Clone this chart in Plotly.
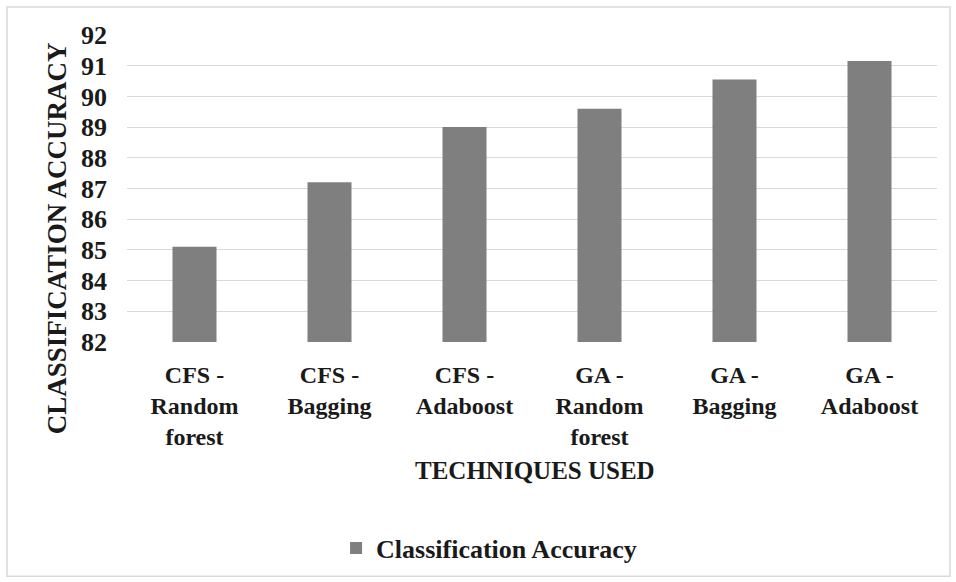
import plotly.graph_objects as go

# Technique names and their classification accuracy (%)
techniques = [
    "CFS - Random forest",
    "CFS - Bagging",
    "CFS - Adaboost",
    "GA - Random forest",
    "GA - Bagging",
    "GA - Adaboost",
]
tick_labels = [
    "CFS -<br>Random<br>forest",
    "CFS -<br>Bagging",
    "CFS -<br>Adaboost",
    "GA -<br>Random<br>forest",
    "GA -<br>Bagging",
    "GA -<br>Adaboost",
]
accuracy = [85.1, 87.2, 89.0, 89.6, 90.55, 91.15]
y_ticks = list(range(82, 93))

W, H = 956, 582
L, R, T, B = 127, 19, 35, 239  # plot-area margins in pixels
PW, PH = W - L - R, H - T - B

def px_x(p):
    return (p - L) / PW

def px_y(p):
    return (H - B - p) / PH

FONT = "Liberation Serif"
INK = "#1a1a1a"

fig = go.Figure(
    go.Bar(
        x=techniques,
        y=accuracy,
        name="<b>Classification Accuracy</b>",
        marker=dict(color="#7f7f7f", line=dict(width=0)),
    )
)

fig.update_layout(
    width=W,
    height=H,
    margin=dict(l=L, r=R, t=T, b=B),
    paper_bgcolor="white",
    plot_bgcolor="white",
    bargap=0.674,
    font=dict(family=FONT, color=INK),
    showlegend=True,
    legend=dict(
        orientation="h",
        x=0.447,
        xanchor="center",
        y=px_y(548),
        yanchor="middle",
        font=dict(family=FONT, size=26, color=INK),
        itemwidth=30,
    ),
    xaxis=dict(
        tickmode="array",
        tickvals=techniques,
        ticktext=[f"<b>{t}</b>" for t in tick_labels],
        tickfont=dict(family=FONT, size=24, color=INK),
        showgrid=False,
        showline=False,
        ticks="",
        ticklabelstandoff=16,
    ),
    yaxis=dict(
        range=[82, 92],
        tickmode="array",
        tickvals=y_ticks,
        ticktext=[f"<b>{v}</b>" for v in y_ticks],
        tickfont=dict(family=FONT, size=26, color=INK),
        showgrid=True,
        gridcolor="#d9d9d9",
        gridwidth=1,
        zeroline=False,
        showline=False,
        ticks="",
        ticklabelstandoff=19,
    ),
    annotations=[
        dict(
            text="<b>CLASSIFICATION ACCURACY</b>",
            xref="paper", yref="paper",
            x=px_x(57), y=px_y(239),
            xanchor="center", yanchor="middle",
            textangle=-90,
            showarrow=False,
            font=dict(family=FONT, size=27, color=INK),
        ),
        dict(
            text="<b>TECHNIQUES USED</b>",
            xref="paper", yref="paper",
            x=px_x(535), y=px_y(472),
            xanchor="center", yanchor="middle",
            showarrow=False,
            font=dict(family=FONT, size=25, color=INK),
        ),
    ],
    shapes=[
        dict(
            type="rect",
            xref="paper", yref="paper",
            x0=px_x(7), x1=px_x(950),
            y0=px_y(578), y1=px_y(7),
            line=dict(color="#d9d9d9", width=1.5),
            fillcolor="rgba(0,0,0,0)",
            layer="below",
        )
    ],
)

fig.write_html("out.html")
